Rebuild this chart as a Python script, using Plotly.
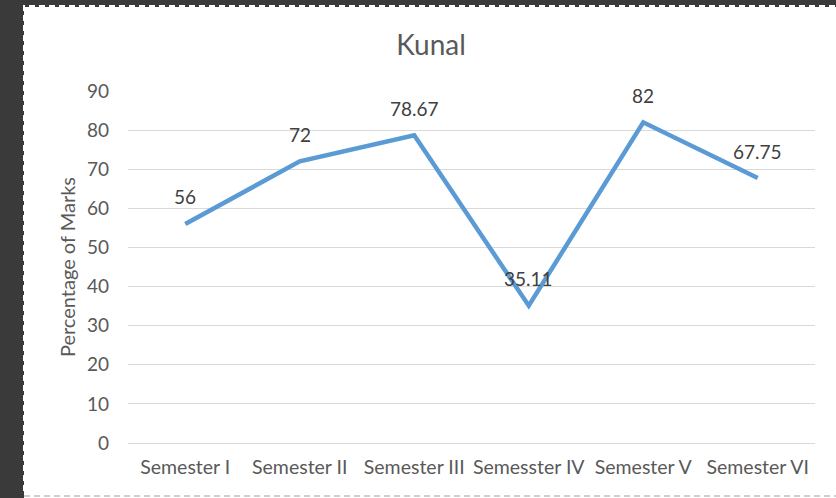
import plotly.graph_objects as go

semesters = ['Semester I', 'Semester II', 'Semester III', 'Semesster IV', 'Semester V', 'Semester VI']
marks = [56, 72, 78.67, 35.11, 82, 67.75]
mark_labels = ['56', '72', '78.67', '35.11', '82', '67.75']
y_ticks = [0, 10, 20, 30, 40, 50, 60, 70, 80, 90]

FONT = 'Lato'
GREY = '#595959'

# plot area in pixels: x 128..815, y 91..443
L, R, T, B = 128, 21, 91, 55
W, H = 836 - L - R, 498 - T - B


def px_x(p):
    return (p - L) / W


def px_y(p):
    return (498 - B - p) / H


fig = go.Figure()

fig.add_trace(go.Scatter(
    x=semesters,
    y=marks,
    mode='lines',
    line=dict(color='#5B9BD5', width=4.5),
    hoverinfo='x+y',
))

annotations = [
    dict(x=s, y=v, text=t, showarrow=False, yshift=27,
         font=dict(family=FONT, size=19, color='#404040'))
    for s, v, t in zip(semesters, marks, mark_labels)
]

shapes = [
    # dark frame left and top
    dict(type='rect', xref='paper', yref='paper',
         x0=px_x(0), x1=px_x(24), y0=px_y(498), y1=px_y(0),
         fillcolor='#3a3a3a', line=dict(width=0), layer='below'),
    dict(type='rect', xref='paper', yref='paper',
         x0=px_x(0), x1=px_x(836), y0=px_y(7), y1=px_y(0),
         fillcolor='#3a3a3a', line=dict(width=0), layer='below'),
    # dashed border round the chart area
    dict(type='rect', xref='paper', yref='paper',
         x0=px_x(24), x1=px_x(840), y0=px_y(495), y1=px_y(6),
         line=dict(color='#ffffff', width=2, dash='6px,4px'), layer='below'),
    dict(type='line', xref='paper', yref='paper',
         x0=px_x(24), x1=px_x(836), y0=px_y(496), y1=px_y(496),
         line=dict(color='#cfcfcf', width=2, dash='6px,4px')),
]

fig.update_layout(
    width=836,
    height=498,
    margin=dict(l=L, r=R, t=T, b=B, autoexpand=False),
    paper_bgcolor='white',
    plot_bgcolor='white',
    showlegend=False,
    title=dict(text='Kunal', x=431 / 836, xanchor='center',
               y=1 - 45 / 498, yanchor='middle',
               font=dict(family=FONT, size=28, color=GREY)),
    xaxis=dict(
        range=[-0.5, 5.5],
        showgrid=False,
        showline=True, linecolor='#d9d9d9', linewidth=1,
        ticks='', ticklabelstandoff=7,
        tickfont=dict(family=FONT, size=19.5, color=GREY),
        automargin=False,
        fixedrange=True,
    ),
    yaxis=dict(
        range=[0, 90],
        tickvals=y_ticks,
        showgrid=True, gridcolor='#d9d9d9', gridwidth=1,
        zeroline=False,
        ticks='', ticklabelstandoff=18,
        tickfont=dict(family=FONT, size=19, color=GREY),
        title=dict(text='Percentage of Marks', standoff=5,
                   font=dict(family=FONT, size=20, color=GREY)),
        automargin=False,
        fixedrange=True,
    ),
    annotations=annotations,
    shapes=shapes,
)

# page has a default 8px body margin; drop it so the figure fills the window
fig.write_html('out.html', config={'displayModeBar': False},
               post_script="document.body.style.margin='0';")
